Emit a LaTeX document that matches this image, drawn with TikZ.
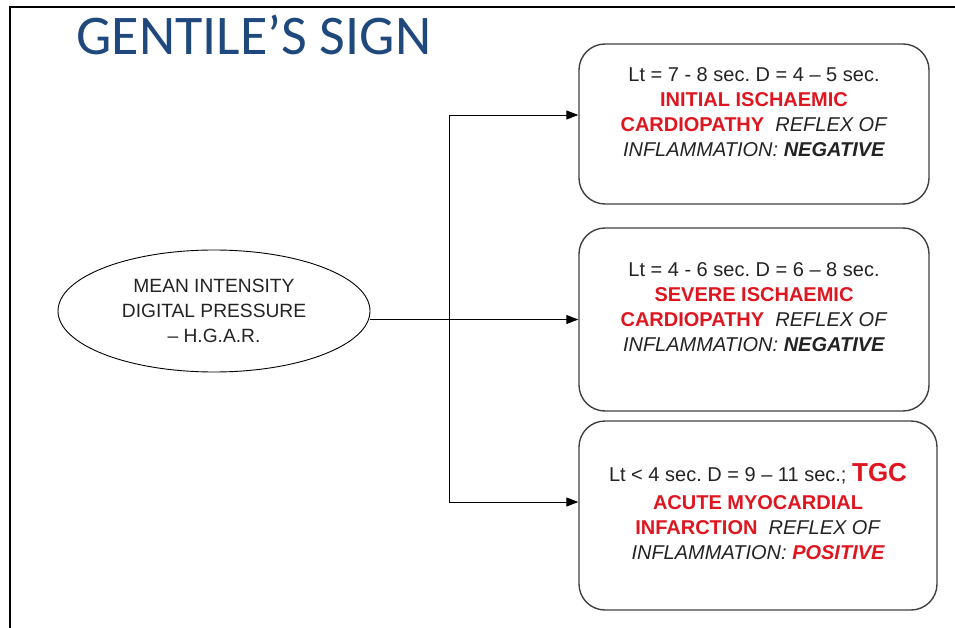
\documentclass[tikz,border=0pt]{standalone}
\usepackage{fontspec}
\setmainfont{Liberation Sans}
\newfontfamily\titlefont{Carlito}
\usepackage{tikz}
\usetikzlibrary{arrows.meta,positioning,shapes.geometric}

\definecolor{titleblue}{RGB}{31,73,125}
\definecolor{sigred}{RGB}{222,22,32}
\definecolor{bodygray}{RGB}{35,35,35}
\newcommand{\redbf}[1]{{\color{sigred}\bfseries #1}}
\frenchspacing

\begin{document}
\begin{tikzpicture}[
    x=1pt, y=-1pt,
    every node/.style={align=center, text=bodygray, font=\fontsize{20}{25}\selectfont},
    outcome/.style={draw=black!75, line width=1.4pt, rounded corners=26pt, minimum width=350pt, inner sep=0pt},
    arrow/.style={-{Triangle[length=12pt,width=9pt]}, line width=0.9pt}
]
\useasboundingbox (0,0) rectangle (955,628);
% slide frame
\draw[line width=2pt] (10,628) -- (10,7) -- (955,7);
\node[anchor=base west, text=titleblue, font=\titlefont\fontsize{56}{60}\selectfont] (title) at (73,55) {GENTILE’S SIGN};

\node[ellipse, draw, line width=0.9pt, minimum width=312pt, minimum height=122pt, inner sep=0pt,
      font=\fontsize{19.2}{25}\selectfont] (hgar) at (214,311)
  {MEAN INTENSITY\\DIGITAL PRESSURE\\– H.G.A.R.};

\node[outcome, minimum height=160pt] (initial) at (754,124)
  {Lt = 7 - 8 sec. D = 4 – 5 sec.\\
   \redbf{INITIAL ISCHAEMIC}\\
   \redbf{CARDIOPATHY}\ \ \textit{REFLEX OF}\\
   \textit{INFLAMMATION: \textbf{NEGATIVE}}\\[-1pt]\mbox{}};
\node[outcome, minimum height=183pt] (severe) at (754,319.5)
  {Lt = 4 - 6 sec. D = 6 – 8 sec.\\
   \redbf{SEVERE ISCHAEMIC}\\
   \redbf{CARDIOPATHY}\ \ \textit{REFLEX OF}\\
   \textit{INFLAMMATION: \textbf{NEGATIVE}}\\[-1pt]\mbox{}};
\node[outcome, minimum width=358pt, minimum height=189pt] (acute) at (758,515.5)
  {Lt < 4 sec. D = 9 – 11 sec.; {\color{sigred}\bfseries\fontsize{26}{25}\selectfont TGC}\\[3pt]
   \redbf{ACUTE MYOCARDIAL}\\
   \redbf{INFARCTION}\ \ \textit{REFLEX OF}\\
   \textit{INFLAMMATION: \redbf{POSITIVE}}\\[-17pt]\mbox{}};

\coordinate (fork) at (449,320);
\draw[arrow] (hgar.east |- severe.west) -- (severe.west);
\draw[arrow] (fork) |- ([yshift=9pt]initial.west);
\draw[arrow] (fork) |- ([yshift=13.5pt]acute.west);
\end{tikzpicture}
\end{document}
